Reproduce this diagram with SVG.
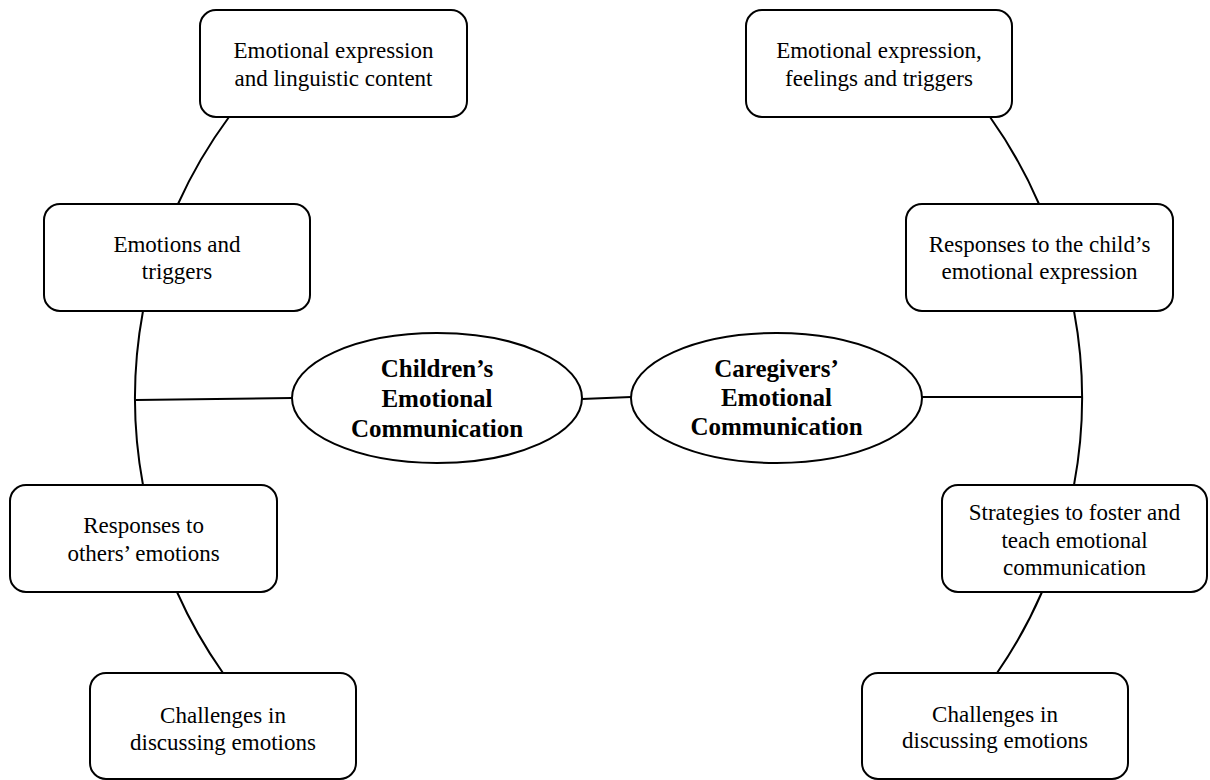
<svg xmlns="http://www.w3.org/2000/svg" width="1210" height="780" viewBox="0 0 1210 780">
<style>
.box{fill:#fff;stroke:#000;stroke-width:2}
.ell{fill:#fff;stroke:#000;stroke-width:2}
.con{fill:none;stroke:#000;stroke-width:2}
text{font-family:"Liberation Serif","Times New Roman",serif;fill:#000;text-anchor:middle}
.t{font-size:23px}
.b{font-size:25px;font-weight:bold}
</style>
<rect width="1210" height="780" fill="#fff"/>
<g id="connectors">
<path class="con" d="M229,117 A477,477 0 0,0 178,204"/>
<path class="con" d="M143,311 A477,477 0 0,0 143,485"/>
<path class="con" d="M177,592 A477,477 0 0,0 223,673"/>
<path class="con" d="M136,400 L292,398"/>
<path class="con" d="M582,399 L631,397"/>
<path class="con" d="M990,117 A473,473 0 0,1 1039,204"/>
<path class="con" d="M1074,311 A473,473 0 0,1 1074,485"/>
<path class="con" d="M1042,592 A473,473 0 0,1 997,673"/>
<path class="con" d="M922,397 L1082,397"/>
</g>
<g id="children">
<ellipse class="ell" cx="437" cy="398" rx="145" ry="65"/>
<text class="b" x="437" y="377">Children’s</text>
<text class="b" x="437" y="407">Emotional</text>
<text class="b" x="437" y="437">Communication</text>
</g>
<g id="caregivers">
<ellipse class="ell" cx="776.5" cy="398" rx="145.5" ry="65"/>
<text class="b" x="776.5" y="377">Caregivers’</text>
<text class="b" x="776.5" y="406">Emotional</text>
<text class="b" x="776.5" y="435">Communication</text>
</g>
<g id="c1">
<rect class="box" x="200" y="10" width="267" height="107" rx="16"/>
<text class="t" x="333.5" y="58">Emotional expression</text>
<text class="t" x="333.5" y="86">and linguistic content</text>
</g>
<g id="c2">
<rect class="box" x="44" y="204" width="266" height="107" rx="16"/>
<text class="t" x="177" y="252">Emotions and</text>
<text class="t" x="177" y="279">triggers</text>
</g>
<g id="c3">
<rect class="box" x="10" y="485" width="267" height="107" rx="16"/>
<text class="t" x="143.5" y="533">Responses to</text>
<text class="t" x="143.5" y="561">others’ emotions</text>
</g>
<g id="c4">
<rect class="box" x="90" y="673" width="266" height="106" rx="16"/>
<text class="t" x="223" y="723">Challenges in</text>
<text class="t" x="223" y="750">discussing emotions</text>
</g>
<g id="g1">
<rect class="box" x="746" y="10" width="266" height="107" rx="16"/>
<text class="t" x="879" y="58">Emotional expression,</text>
<text class="t" x="879" y="86">feelings and triggers</text>
</g>
<g id="g2">
<rect class="box" x="906" y="204" width="267" height="107" rx="16"/>
<text class="t" x="1039.5" y="252">Responses to the child’s</text>
<text class="t" x="1039.5" y="279">emotional expression</text>
</g>
<g id="g3">
<rect class="box" x="942" y="485" width="265" height="107" rx="16"/>
<text class="t" x="1074.5" y="520">Strategies to foster and</text>
<text class="t" x="1074.5" y="548">teach emotional</text>
<text class="t" x="1074.5" y="575">communication</text>
</g>
<g id="g4">
<rect class="box" x="862" y="673" width="266" height="106" rx="16"/>
<text class="t" x="995" y="722">Challenges in</text>
<text class="t" x="995" y="748">discussing emotions</text>
</g>
</svg>
